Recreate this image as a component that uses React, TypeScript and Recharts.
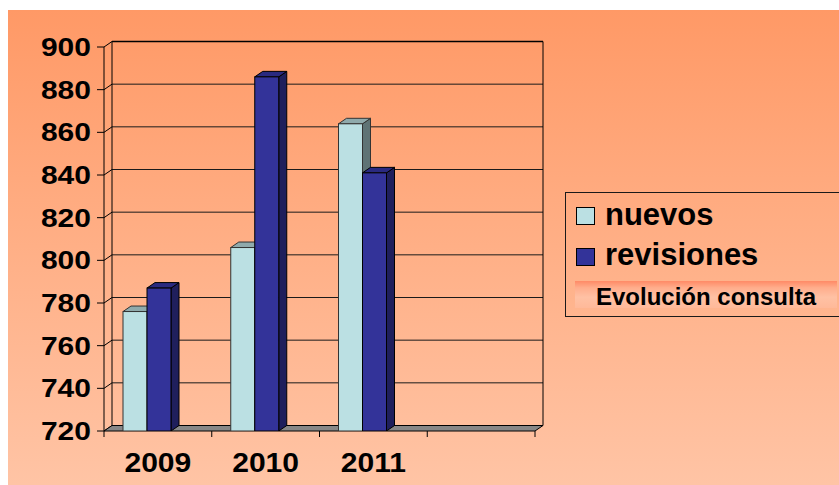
import React from 'react';
import { BarChart, Bar, XAxis, YAxis, CartesianGrid, Legend, ReferenceArea } from 'recharts';

// values
const categories = ['2009', '2010', '2011', ' '];
const nuevos = [776, 806, 864, null];
const revisiones = [787, 886, 841, null];
const yTicks = [720, 740, 760, 780, 800, 820, 840, 860, 880, 900];
const legendTitle = 'Evolución consulta';

const data = categories.map((c, i) => ({ year: c, nuevos: nuevos[i], revisiones: revisiones[i] }));

const W = 839;
const H = 485;
const MARGIN = { top: 47, right: 304, bottom: 24, left: 34 };
const Y_W = 70;
const X_H = 30;
const BAND = (W - MARGIN.left - Y_W - MARGIN.right) / categories.length;

// oblique depth of the excel 3d look
const DX = 8;
const DY = -5.5;
const SHIFT = -11;
const FONT = '"Liberation Sans", Arial, sans-serif';

const makeBox = (face: string, top: string, side: string, stroke: string) => (p: any) => {
    const { x, y, width: w, height: h } = p;
    if (h == null || isNaN(h) || h <= 0) return <g />;
    const bx = x + SHIFT;
    return (
        <g>
            <polygon
                points={`${bx + w},${y} ${bx + w + DX},${y + DY} ${bx + w + DX},${y + h + DY} ${bx + w},${y + h}`}
                fill={side} stroke={stroke} strokeWidth={1}
            />
            <polygon
                points={`${bx},${y} ${bx + DX},${y + DY} ${bx + w + DX},${y + DY} ${bx + w},${y}`}
                fill={top} stroke={stroke} strokeWidth={1}
            />
            <rect x={bx} y={y} width={w} height={h} fill={face} stroke={stroke} strokeWidth={1} />
        </g>
    );
};

const gridLine = (p: any) => {
    const { x1, y1, x2, y2 } = p;
    return (
        <g>
            <line x1={x1} y1={y1} x2={x1 + DX} y2={y1 + DY} stroke="#000" />
            <line x1={x1 + DX} y1={y1 + DY} x2={x2 + DX} y2={y2 + DY} stroke="#1a1a1a" />
        </g>
    );
};

// back wall + grey floor
const frame = (p: any) => {
    const { x, y, width: w, height: h } = p;
    const b = y + h;
    return (
        <g>
            <line x1={x + DX} y1={y + DY} x2={x + DX} y2={b + DY} stroke="#000" />
            <line x1={x + w + DX} y1={y + DY} x2={x + w + DX} y2={b + DY} stroke="#000" />
            <line x1={x + DX} y1={y + DY} x2={x + w + DX} y2={y + DY} stroke="#000" strokeWidth={1.5} />
            <polygon
                points={`${x},${b} ${x + w},${b} ${x + w + DX},${b + DY} ${x + DX},${b + DY}`}
                fill="#878787" stroke="#000" strokeWidth={1}
            />
        </g>
    );
};

const XTick = (p: any) => {
    const { x, y, payload, index } = p;
    const off = payload?.offset || BAND / 2;
    const t = y - 8;
    return (
        <g>
            <line x1={x - off} y1={t} x2={x - off} y2={t + 6} stroke="#000" />
            {index === categories.length - 1 && <line x1={x + off} y1={t} x2={x + off} y2={t + 6} stroke="#000" />}
            <text
                x={0} y={0}
                transform={`translate(${x},${y + 33}) scale(1.075,1)`}
                textAnchor="middle"
                fontFamily={FONT} fontWeight={700} fontSize={28} fill="#000"
            >
                {payload.value}
            </text>
        </g>
    );
};

const YTick = (p: any) => {
    const { x, y, payload } = p;
    return (
        <text
            x={0} y={0} dy="0.355em"
            transform={`translate(${x},${y}) scale(1.2,1)`}
            textAnchor="end"
            fontFamily={FONT} fontWeight={700} fontSize={25} fill="#000"
        >
            {payload.value}
        </text>
    );
};

const renderLegend = (props: any) => {
    const items = props.payload || [];
    return (
        <div style={{ position: 'relative', width: 290, height: 125, border: '1px solid #1a1a1a', boxSizing: 'border-box', fontFamily: FONT }}>
            {items.map((item: any, i: number) => (
                <React.Fragment key={item.value}>
                    <div style={{
                        position: 'absolute', left: 10, top: 13.7 + i * 41, width: 19, height: 18,
                        boxSizing: 'border-box', border: '1px solid #000', background: item.color,
                    }} />
                    <div style={{
                        position: 'absolute', left: 39, top: 5.8 + i * 40, fontSize: 31, lineHeight: '31px',
                        fontWeight: 700, color: '#000', whiteSpace: 'nowrap',
                    }}>
                        {item.value}
                    </div>
                </React.Fragment>
            ))}
            <div style={{
                position: 'absolute', left: 9, top: 88, width: 262, height: 27,
                background: 'linear-gradient(#ff8a66 0%, #ffad8c 25%, #ffc1a4 60%, #ffb999 100%)',
                fontSize: 24, lineHeight: '27px', fontWeight: 700, color: '#000', textAlign: 'center',
                paddingTop: 2, boxSizing: 'border-box', whiteSpace: 'nowrap',
            }}>
                {legendTitle}
            </div>
        </div>
    );
};

export default function App() {
    return (
        <div style={{ position: 'absolute', left: 0, top: 0, width: W, height: H, overflow: 'hidden', background: '#fff' }}>
            <div style={{
                position: 'absolute', left: 8, top: 10, right: 0, bottom: 0,
                background: 'linear-gradient(to bottom, #ff9966 0%, #ffab80 40%, #ffc4a5 100%)',
            }} />
            <div style={{ position: 'absolute', left: 0, top: 0 }}>
                <BarChart width={W} height={H} data={data} margin={MARGIN} barGap={0} barSize={24}>
                    <CartesianGrid vertical={false} horizontal={gridLine} />
                    <ReferenceArea y1={720} y2={900} shape={frame} ifOverflow="visible" />
                    <XAxis
                        dataKey="year" height={X_H} axisLine={false} tickLine={false}
                        tickSize={6} tickMargin={2} tick={<XTick />} interval={0}
                    />
                    <YAxis
                        width={Y_W} domain={[720, 900]} ticks={yTicks} interval={0} allowDataOverflow
                        axisLine={{ stroke: '#000' }} tickLine={{ stroke: '#000' }}
                        tickSize={7} tickMargin={6} tick={<YTick />}
                    />
                    <Legend
                        layout="vertical" align="center" verticalAlign="middle"
                        content={renderLegend}
                        wrapperStyle={{ left: 565, top: 192, width: 290, height: 125 }}
                    />
                    <Bar dataKey="nuevos" name="nuevos" fill="#bbe0e3" isAnimationActive={false}
                        shape={makeBox('#bbe0e3', '#8faaac', '#5f7375', '#333')} />
                    <Bar dataKey="revisiones" name="revisiones" fill="#333399" isAnimationActive={false}
                        shape={makeBox('#333399', '#2a2a80', '#1f1f5c', '#000')} />
                </BarChart>
            </div>
        </div>
    );
}
